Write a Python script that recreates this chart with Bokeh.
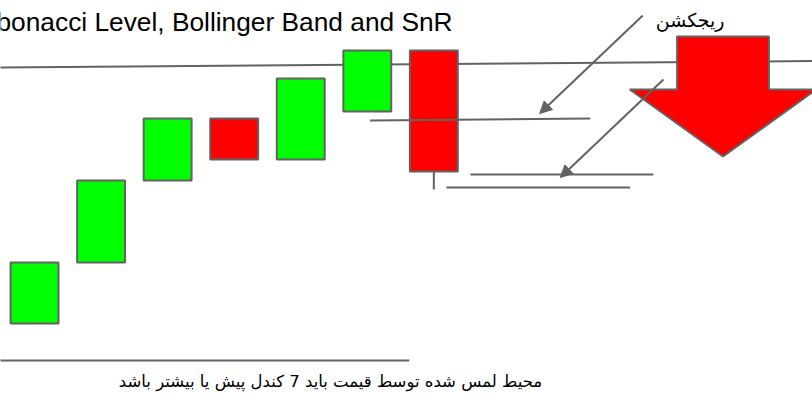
from bokeh.plotting import figure
from bokeh.models import Range1d, ColumnDataSource, Arrow, NormalHead
from bokeh.core.properties import value
from bokeh.embed import file_html
from bokeh.resources import INLINE

# ---- data ----
candle_x = [1, 2, 3, 4, 5, 6, 7]
opens = [83, 144, 226, 288, 247, 295, 356]
closes = [144, 226, 288, 247, 328, 356, 235]
highs = [144, 226, 288, 288, 328, 356, 356]
lows = [83, 144, 226, 247, 247, 295, 217]

# horizontal levels (support / resistance)
level_x0 = [0.45, 6.04, 7.55, 7.19, 0.45]
level_x1 = [12.75, 9.35, 10.30, 9.95, 6.63]
level_y0 = [339, 286, 232, 219, 46]
level_y1 = [345.5, 288, 232, 219, 46]

# pointer arrows
ptr_x0 = [10.14, 10.45]
ptr_y0 = [391, 327]
ptr_x1 = [8.59, 8.90]
ptr_y1 = [293, 229]

# big rejection arrow: centre, shaft half width, head half width, top, head base, tip
big_cx = 11.345
big_shaft_hw = 0.69
big_head_hw = 1.40
big_top = 370
big_base = 317
big_tip = 250

title = "Fibonacci Level, Bollinger Band and SnR"
label_top = "ریجکشن"
label_bottom = "محیط لمس شده توسط قیمت باید 7 کندل پیش یا بیشتر باشد"

GRAY = "#626262"
GREEN = "#00ff00"
RED = "#ff0000"

p = figure(width=812, height=406,
           x_range=Range1d(0.4884, 12.690), y_range=Range1d(0, 406),
           output_backend="svg", toolbar_location=None, min_border=0)
p.axis.visible = False
p.grid.visible = False
p.outline_line_color = None
p.background_fill_color = "white"
p.border_fill_color = "white"

# resistance line (behind candles and big arrow)
p.segment(x0=level_x0[:1], y0=level_y0[:1], x1=level_x1[:1], y1=level_y1[:1],
          line_color=GRAY, line_width=2)

# candles
colors = [GREEN if c >= o else RED for o, c in zip(opens, closes)]
tops = [max(o, c) for o, c in zip(opens, closes)]
bots = [min(o, c) for o, c in zip(opens, closes)]
src = ColumnDataSource(dict(x=candle_x, top=tops, bottom=bots, color=colors,
                            high=highs, low=lows))
p.segment(x0="x", y0="high", x1="x", y1="low", source=src,
          line_color=GRAY, line_width=2)
p.vbar(x="x", top="top", bottom="bottom", width=0.72, source=src,
       fill_color="color", line_color=GRAY, line_width=2)

# big red arrow
bx = [big_cx - big_shaft_hw, big_cx + big_shaft_hw, big_cx + big_shaft_hw,
      big_cx + big_head_hw, big_cx, big_cx - big_head_hw, big_cx - big_shaft_hw]
by = [big_top, big_top, big_base, big_base, big_tip, big_base, big_base]
p.patch(bx, by, fill_color=RED, line_color=GRAY, line_width=2)

# other levels (on top)
p.segment(x0=level_x0[1:], y0=level_y0[1:], x1=level_x1[1:], y1=level_y1[1:],
          line_color=GRAY, line_width=2)

# pointer arrows
asrc = ColumnDataSource(dict(x0=ptr_x0, y0=ptr_y0, x1=ptr_x1, y1=ptr_y1))
p.add_layout(Arrow(end=NormalHead(size=12, fill_color=GRAY, line_color=GRAY),
                   x_start="x0", y_start="y0", x_end="x1", y_end="y1",
                   source=asrc, line_color=GRAY, line_width=2))

# texts
p.text(x=[0.099], y=[385], text=[title], text_font=value("Liberation Sans"),
       text_font_size="26.3px", text_color="black", text_align="left",
       text_baseline="alphabetic")
p.text(x=[10.85], y=[387], text=[label_top], text_font=value("DejaVu Sans"),
       text_font_size="19px", text_color="black", text_align="center",
       text_baseline="alphabetic")
p.text(x=[5.447], y=[25], text=[label_bottom], text_font=value("DejaVu Sans"),
       text_font_size="16.5px", text_color="black", text_align="center",
       text_baseline="alphabetic")

open("out.html", "w").write(file_html(p, INLINE))
